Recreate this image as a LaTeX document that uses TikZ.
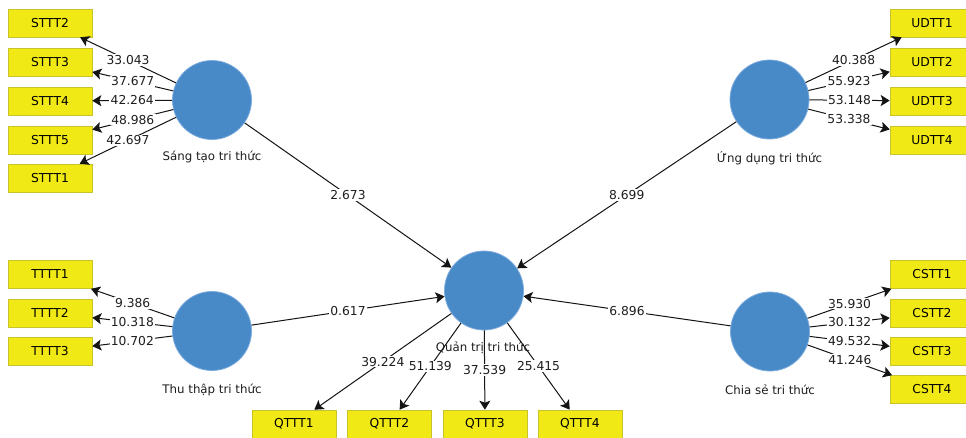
\documentclass[tikz,border=0pt]{standalone}
\usepackage{fontspec}
\setmainfont{DejaVu Sans}
\usetikzlibrary{arrows.meta}
\definecolor{circblue}{RGB}{72,137,199}
\definecolor{circedge}{RGB}{125,172,222}
\definecolor{boxyel}{RGB}{241,233,22}
\definecolor{boxedge}{RGB}{200,194,45}
\definecolor{linegray}{RGB}{20,20,20}
\definecolor{txtgray}{RGB}{30,30,30}
\tikzset{
  lv/.style={circle, fill=circblue, draw=circedge, line width=0.8pt, minimum size=79pt, inner sep=0pt},
  ind/.style={rectangle, fill=boxyel, draw=boxedge, line width=0.6pt, minimum width=84pt, minimum height=28pt, inner sep=0pt, font=\fontsize{12.3pt}{14pt}\selectfont, text=black},
  lvlbl/.style={font=\fontsize{11.8pt}{14pt}\selectfont, text=txtgray, inner sep=0pt},
  num/.style={midway, fill=white, inner sep=1.2pt, font=\fontsize{12.3pt}{14pt}\selectfont, text=txtgray},
  arr/.style={draw=linegray, line width=1pt, -{Stealth[length=9pt,width=11pt,inset=2pt]}}
}
\begin{document}
\begin{tikzpicture}[x=1pt,y=-1pt]
\clip (0,0) rectangle (966,437);
\fill[white] (0,0) rectangle (966,437);
% latent variables
\node[lv] (ST) at (212,100) {};
\node[lv] (UD) at (769.5,99.5) {};
\node[lv] (TT) at (212,331) {};
\node[lv] (CS) at (770,331.5) {};
\node[lv] (QT) at (484,290.5) {};
% indicators
\node[ind] (STTT2) at (50,23) {STTT2};
\node[ind] (STTT3) at (50,62) {STTT3};
\node[ind] (STTT4) at (50,101) {STTT4};
\node[ind] (STTT5) at (50,140) {STTT5};
\node[ind] (STTT1) at (50,178) {STTT1};
\node[ind] (UDTT1) at (932,23) {UDTT1};
\node[ind] (UDTT2) at (932,62) {UDTT2};
\node[ind] (UDTT3) at (932,101) {UDTT3};
\node[ind] (UDTT4) at (932,140) {UDTT4};
\node[ind] (TTTT1) at (50,274.5) {TTTT1};
\node[ind] (TTTT2) at (50,313) {TTTT2};
\node[ind] (TTTT3) at (50,351.5) {TTTT3};
\node[ind] (CSTT1) at (932,274.5) {CSTT1};
\node[ind] (CSTT2) at (932,313) {CSTT2};
\node[ind] (CSTT3) at (932,351.5) {CSTT3};
\node[ind] (CSTT4) at (932,389.5) {CSTT4};
\node[ind] (QTTT1) at (294,424) {QTTT1};
\node[ind] (QTTT2) at (389.5,424) {QTTT2};
\node[ind] (QTTT3) at (485,424) {QTTT3};
\node[ind] (QTTT4) at (580,424) {QTTT4};
% outer arrows
\draw[arr] (ST) -- node[num]{33.043} (STTT2);
\draw[arr] (ST) -- node[num]{37.677} (STTT3);
\draw[arr] (ST) -- node[num]{42.264} (STTT4);
\draw[arr] (ST) -- node[num]{48.986} (STTT5);
\draw[arr] (ST) -- node[num]{42.697} (STTT1);
\draw[arr] (UD) -- node[num]{40.388} (UDTT1);
\draw[arr] (UD) -- node[num]{55.923} (UDTT2);
\draw[arr] (UD) -- node[num]{53.148} (UDTT3);
\draw[arr] (UD) -- node[num]{53.338} (UDTT4);
\draw[arr] (TT) -- node[num]{9.386} (TTTT1);
\draw[arr] (TT) -- node[num]{10.318} (TTTT2);
\draw[arr] (TT) -- node[num]{10.702} (TTTT3);
\draw[arr] (CS) -- node[num]{35.930} (CSTT1);
\draw[arr] (CS) -- node[num]{30.132} (CSTT2);
\draw[arr] (CS) -- node[num]{49.532} (CSTT3);
\draw[arr] (CS) -- node[num]{41.246} (CSTT4);
\draw[arr] (QT) -- node[num]{39.224} (QTTT1);
\draw[arr] (QT) -- node[num]{51.139} (QTTT2);
\draw[arr] (QT) -- node[num]{37.539} (QTTT3);
\draw[arr] (QT) -- node[num]{25.415} (QTTT4);
% inner paths
\draw[arr] (ST) -- node[num]{2.673} (QT);
\draw[arr] (UD) -- node[num]{8.699} (QT);
\draw[arr] (TT) -- node[num]{0.617} (QT);
\draw[arr] (CS) -- node[num]{6.896} (QT);
% latent labels
\node[lvlbl] (STl) at (212,157) {Sáng tạo tri thức};
\node[lvlbl] (UDl) at (769.5,158) {Ứng dụng tri thức};
\node[lvlbl] (TTl) at (212,390) {Thu thập tri thức};
\node[lvlbl] (CSl) at (770,390) {Chia sẻ tri thức};
\node[lvlbl] (QTl) at (483,348) {Quản trị tri thức};
\end{tikzpicture}
\end{document}
